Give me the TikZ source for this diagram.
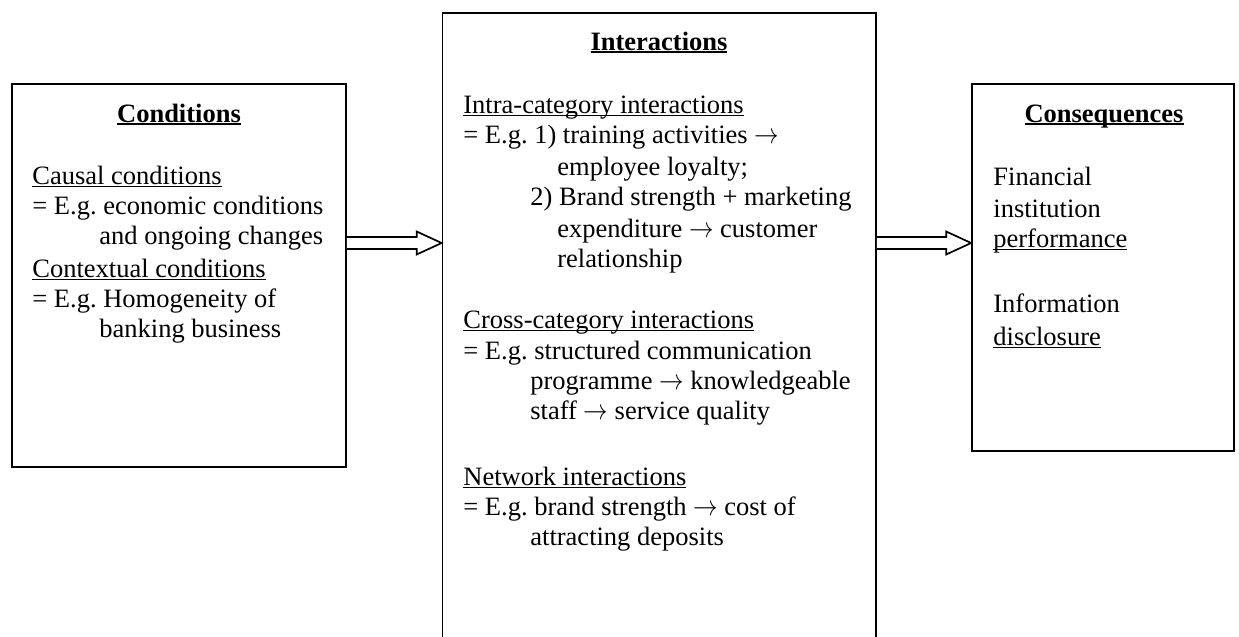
\documentclass[tikz,border=0pt]{standalone}
\usepackage{graphicx}
\usepackage{fontspec}
\setmainfont{Liberation Serif}
\usetikzlibrary{fit,calc}

% underline at a fixed distance below the baseline
\newcommand\myul[1]{\setbox0\hbox{#1}\rlap{\rule[-1.5pt]{\wd0}{0.6pt}}\box0}
\newcommand\myulb[1]{\setbox0\hbox{#1}\rlap{\rule[-1.6pt]{\wd0}{0.95pt}}\box0}
% thin arrow used inside the text
\newcommand\tarr{\scalebox{0.85}[1]{$\rightarrow$}}

\tikzset{
  box/.style={draw=black, line width=0.85pt, inner sep=0pt},
  tl/.style={anchor=base west, inner sep=0pt, text height=9pt, text depth=2.5pt,
             font=\fontsize{13.25pt}{15.3pt}\selectfont\frenchspacing},
  hd/.style={anchor=base, inner sep=0pt, text height=9pt, text depth=2.5pt,
             font=\fontsize{13.25pt}{15.3pt}\selectfont\bfseries},
  blockarrow/.style={draw=black, line width=0.85pt, fill=white, line join=miter},
}

\begin{document}
\begin{tikzpicture}[x=0.5pt, y=-0.5pt]
  \useasboundingbox (0,0) rectangle (1239,637);
  \clip (0,0) rectangle (1239,637);

  % the three boxes
  \node[box, fit={(12,84) (346,467)}] (cond) {};
  \node[box, fit={(442.5,13) (876,700)}] (inter) {};
  \node[box, fit={(972,84) (1234,451)}] (cons) {};

  % block arrows between the boxes
  \coordinate (lvl) at (0,243);
  \coordinate (a1s) at (cond.east |- lvl);
  \coordinate (a1e) at (inter.west |- lvl);
  \coordinate (a2s) at (inter.east |- lvl);
  \coordinate (a2e) at (cons.west |- lvl);
  \draw[blockarrow] ($(a1s)+(0,-6)$) -- ($(a1e)+(-25,-6)$) -- ($(a1e)+(-25,-11.5)$)
     -- (a1e) -- ($(a1e)+(-25,11.5)$) -- ($(a1e)+(-25,6)$) -- ($(a1s)+(0,6)$);
  \draw[blockarrow] ($(a2s)+(0,-6)$) -- ($(a2e)+(-25,-6)$) -- ($(a2e)+(-25,-11.5)$)
     -- (a2e) -- ($(a2e)+(-25,11.5)$) -- ($(a2e)+(-25,6)$) -- ($(a2s)+(0,6)$);

  % Conditions
  \node[hd] (c0) at (179,122) {\myulb{Conditions}};
  \node[tl] (c1) at (32,184) {\myul{Causal conditions}};
  \node[tl] (c2) at (32,214) {= E.g. economic conditions};
  \node[tl] (c3) at (99,244) {and ongoing changes};
  \node[tl] (c4) at (32,277) {\myul{Contextual conditions}};
  \node[tl] (c5) at (32,307) {= E.g. Homogeneity of};
  \node[tl] (c6) at (99,337) {banking business};

  % Interactions
  \node[hd] (i0) at (659,50) {\myulb{Interactions}};
  \node[tl] (i1) at (463,113) {\myul{Intra-category interactions}};
  \node[tl] (i2) at (463,143) {= E.g. 1) training activities \tarr};
  \node[tl] (i3) at (557,175) {employee loyalty;};
  \node[tl] (i4) at (530,205) {2) Brand strength + marketing};
  \node[tl] (i5) at (557,237) {expenditure \tarr{} customer};
  \node[tl] (i6) at (557,267) {relationship};
  \node[tl] (i7) at (463,328) {\myul{Cross-category interactions}};
  \node[tl] (i8) at (463,359) {= E.g. structured communication};
  \node[tl] (i9) at (530,389) {programme \tarr{} knowledgeable};
  \node[tl] (i10) at (530,419) {staff \tarr{} service quality};
  \node[tl] (i11) at (463,485) {\myul{Network interactions}};
  \node[tl] (i12) at (463,515) {= E.g. brand strength \tarr{} cost of};
  \node[tl] (i13) at (530,545) {attracting deposits};

  % Consequences
  \node[hd] (q0) at (1104,122) {\myulb{Consequences}};
  \node[tl] (q1) at (993,185) {Financial};
  \node[tl] (q2) at (993,217) {institution};
  \node[tl] (q3) at (993,247) {\myul{performance}};
  \node[tl] (q4) at (993,312) {Information};
  \node[tl] (q5) at (993,345) {\myul{disclosure}};
\end{tikzpicture}
\end{document}
